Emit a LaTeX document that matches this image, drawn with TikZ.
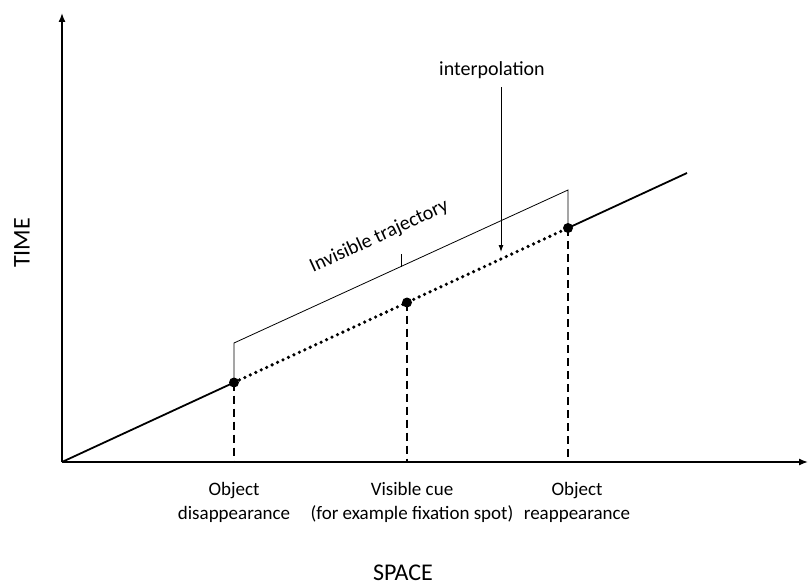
\documentclass[tikz,border=0pt]{standalone}
\usepackage{fontspec}
\setmainfont{Carlito}
\usetikzlibrary{calc,arrows.meta}
\tikzset{
  axis/.style={line width=1.4pt,-{Latex[length=9pt,width=7pt]}},
  guide/.style={line width=1.6pt,dash pattern=on 8pt off 5pt},
  hidden/.style={line width=3.6pt,line cap=round,dash pattern=on 0pt off 6pt},
  lbl/.style={font=\fontsize{20}{24}\selectfont,align=center},
  ticklbl/.style={font=\fontsize{19}{24}\selectfont,align=center},
  axlbl/.style={font=\fontsize{24}{28}\selectfont,inner sep=0pt}
}
\begin{document}
\begin{tikzpicture}[x=1pt,y=-1pt]
    \useasboundingbox (0,0) rectangle (808,586);
    \coordinate (O) at (62,462);
    \coordinate (Ytop) at (62,13);
    \coordinate (Xend) at (808,462);
    \coordinate (E) at (687,173);
    \coordinate (dis) at (234,382.5);
    \coordinate (cue) at (407,302.5);
    \coordinate (rea) at (568,228);
    \coordinate (bl) at (234,343);
    \coordinate (br) at (568,190);
    \coordinate (ipt) at (501,252);
    % axes
    \draw[axis] (O) -- (Ytop);
    \draw[axis] (O) -- (Xend);
    \node[axlbl,rotate=90] (time) at (22,243) {TIME};
    \node[axlbl] (space) at (403,573) {SPACE};
    % trajectory
    \draw[line width=1.8pt] (O) -- (dis) (rea) -- (E);
    \draw[hidden] (dis) -- (rea);
    \foreach \p in {dis,cue,rea}{
      \fill (\p) circle (5);
      \draw[guide] (\p) -- (\p |- O);
    }
    \node[ticklbl] (ldis) at (234,502) {Object\\disappearance};
    \node[ticklbl] (lcue) at (412,502) {Visible cue\\(for example fixation spot)};
    \node[ticklbl] (lrea) at (577,502) {Object\\reappearance};
    % bracket
    \draw[line width=0.8pt] (dis) -- (bl) -- (br) -- (rea);
    \draw[line width=0.8pt] ($(bl)!0.5!(br)$) -- ++(0,-13);
    \path (bl) -- (br) node[lbl,pos=0.48,sloped,above=24pt] (ltraj) {Invisible trajectory};
    % interpolation
    \node[lbl] (ip) at (492,70) {interpolation};
    \draw[line width=0.9pt,-{Latex[length=7pt,width=5pt]}] ([yshift=-5pt]ip.south -| ipt) -- (ipt);
\end{tikzpicture}
\end{document}
